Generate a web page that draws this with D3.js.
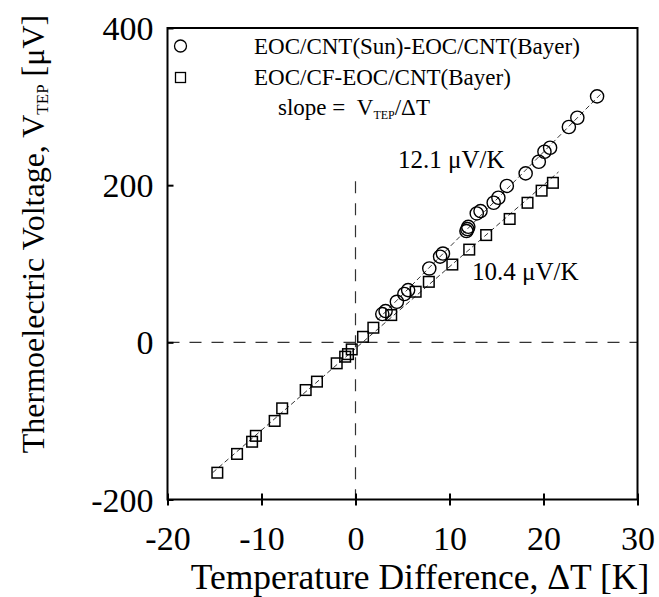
<!DOCTYPE html>
<html>
<head>
<meta charset="utf-8">
<script src="https://cdn.jsdelivr.net/npm/d3@7"></script>
<style>
  html, body { margin: 0; padding: 0; background: #fff; }
  svg { display: block; }
  text { font-family: "Liberation Serif", "Times New Roman", serif; fill: #000; }
</style>
</head>
<body>
<svg id="chart" width="659" height="597"></svg>
<script>
// EOC/CNT(Sun) - EOC/CNT(Bayer) couple: ΔT [K] and V_TEP [µV]
const sunDT = [2.85, 3.2, 4.4, 5.2, 5.6, 7.85, 9.0, 9.3, 11.8, 11.9, 12.0,
               12.9, 13.3, 14.7, 15.2, 16.1, 18.1, 19.5, 20.1, 20.7, 22.7, 23.6, 25.7];
const sunV  = [36, 39.8, 51.6, 61.5, 66.5, 94, 109, 113, 141.6, 144, 147,
               164, 167, 177.6, 184, 199, 215, 229.8, 242.5, 247.6, 274, 285.8, 313];

// EOC/CF - EOC/CNT(Bayer) couple
const cfDT = [-14.7, -12.6, -11.0, -10.6, -8.6, -7.8, -5.3, -4.1, -2.0, -1.1, -0.8, -0.4,
              0.8, 1.9, 3.8, 6.4, 7.8, 10.3, 12.1, 13.9, 16.4, 18.3, 19.8, 21.0];
const cfV  = [-165.9, -142, -126.5, -119, -100, -84, -60.7, -50, -26.7, -18.3, -15, -9,
              7, 18.6, 34.7, 64.4, 77, 99, 118, 136.5, 157, 177.6, 193, 203];

// Seebeck slopes [µV/K]
const slopeSun = 12.1;
const slopeCF = 10.4;

const seriesNames = ["EOC/CNT(Sun)-EOC/CNT(Bayer)", "EOC/CF-EOC/CNT(Bayer)"];
const xTicks = [-20, -10, 0, 10, 20, 30];
const yTicks = [-200, 0, 200, 400];

const svg = d3.select("#chart");
const plotLeft = 167.5, plotRight = 637.5, plotTop = 28, plotBottom = 499.5;

const x = d3.scaleLinear().domain([-20, 30]).range([plotLeft, plotRight]);
const y = d3.scaleLinear().domain([-200, 400]).range([plotBottom, plotTop]);

// plain hyphen-minus tick labels
const fmt = d => String(d);

// zero reference lines
svg.append("line")
  .attr("x1", x(-20)).attr("x2", x(30)).attr("y1", y(0)).attr("y2", y(0))
  .attr("stroke", "#333").attr("stroke-width", 1.2).attr("stroke-dasharray", "12,10");
svg.append("line")
  .attr("x1", x(0)).attr("x2", x(0)).attr("y1", y(205)).attr("y2", y(-200))
  .attr("stroke", "#333").attr("stroke-width", 1.2).attr("stroke-dasharray", "12,10");

// fitted lines with the stated slopes, intercept from the series means
function fitLine(xs, ys, slope) {
  const b = d3.mean(ys) - slope * d3.mean(xs);
  const x0 = d3.min(xs) - 0.5, x1 = d3.max(xs) + 0.6;
  return [[x0, b + slope * x0], [x1, b + slope * x1]];
}
const lineGen = d3.line().x(d => x(d[0])).y(d => y(d[1]));
[[sunDT, sunV, slopeSun], [cfDT, cfV, slopeCF]].forEach(([xs, ys, s]) => {
  svg.append("path")
    .attr("d", lineGen(fitLine(xs, ys, s)))
    .attr("fill", "none").attr("stroke", "#000")
    .attr("stroke-width", 0.8).attr("stroke-dasharray", "5,3");
});

// markers
const cfPts = cfDT.map((d, i) => [d, cfV[i]]);
const sunPts = sunDT.map((d, i) => [d, sunV[i]]);
const sq = 10.6;
svg.append("g").selectAll("rect").data(cfPts).join("rect")
  .attr("x", d => x(d[0]) - sq / 2).attr("y", d => y(d[1]) - sq / 2)
  .attr("width", sq).attr("height", sq)
  .attr("fill", "none").attr("stroke", "#000").attr("stroke-width", 1.5);
svg.append("g").selectAll("circle").data(sunPts).join("circle")
  .attr("cx", d => x(d[0])).attr("cy", d => y(d[1])).attr("r", 6.6)
  .attr("fill", "none").attr("stroke", "#000").attr("stroke-width", 1.4);

// axes
const xAxis = svg.append("g").attr("transform", `translate(0,${plotBottom})`)
  .call(d3.axisBottom(x).tickValues(xTicks).tickFormat(fmt));
xAxis.select(".domain").remove();
xAxis.selectAll(".tick line").attr("y1", -6).attr("y2", 6)
  .attr("stroke", "#000").attr("stroke-width", 2);
xAxis.selectAll(".tick text").attr("y", 50.5).attr("dy", 0)
  .style("font-size", "34px").style("font-family", "Liberation Serif");

const yAxis = svg.append("g").attr("transform", `translate(${plotLeft},0)`)
  .call(d3.axisLeft(y).tickValues(yTicks).tickFormat(fmt));
yAxis.select(".domain").remove();
yAxis.selectAll(".tick line").attr("x1", 0).attr("x2", 6)
  .attr("stroke", "#000").attr("stroke-width", 2);
yAxis.selectAll(".tick text").attr("x", -14).attr("dy", "0.34em")
  .style("font-size", "34px").style("font-family", "Liberation Serif");
xAxis.selectAll("text").attr("fill", "#000");
yAxis.selectAll("text").attr("fill", "#000");

// frame
svg.append("rect")
  .attr("x", plotLeft).attr("y", plotTop)
  .attr("width", plotRight - plotLeft).attr("height", plotBottom - plotTop)
  .attr("fill", "none").attr("stroke", "#000").attr("stroke-width", 2);

// legend
svg.append("circle").attr("cx", 180.5).attr("cy", 46).attr("r", 6)
  .attr("fill", "none").attr("stroke", "#000").attr("stroke-width", 1.3);
svg.append("rect").attr("x", 175.5).attr("y", 72.5).attr("width", 10).attr("height", 10)
  .attr("fill", "none").attr("stroke", "#000").attr("stroke-width", 1.3);
svg.append("text").attr("x", 254).attr("y", 53.5).style("font-size", "23px").text(seriesNames[0]);
svg.append("text").attr("x", 254).attr("y", 84.5).style("font-size", "23px").text(seriesNames[1]);

const slopeText = svg.append("text").attr("x", 278).attr("y", 115).style("font-size", "23px");
slopeText.append("tspan").text("slope =\u00A0\u00A0V");
slopeText.append("tspan").attr("dy", 4).style("font-size", "12px").text("TEP");
slopeText.append("tspan").attr("dy", -4).text("/ΔT");

// slope annotations
svg.append("text").attr("x", 398).attr("y", 168).style("font-size", "25px")
  .text(`${slopeSun.toFixed(1)} μV/K`);
svg.append("text").attr("x", 472).attr("y", 280).style("font-size", "25px")
  .text(`${slopeCF.toFixed(1)} μV/K`);

// axis titles
svg.append("text").attr("x", 420).attr("y", 589).attr("text-anchor", "middle")
  .style("font-size", "35.5px").text("Temperature Difference, ΔT [K]");

const yTitle = svg.append("text")
  .attr("transform", "translate(44,234) rotate(-90)")
  .attr("text-anchor", "middle").style("font-size", "32px");
yTitle.append("tspan").text("Thermoelectric Voltage, V");
yTitle.append("tspan").attr("dy", 4).style("font-size", "17px").text("TEP");
yTitle.append("tspan").attr("dy", -4).text(" [μV]");
</script>
</body>
</html>
